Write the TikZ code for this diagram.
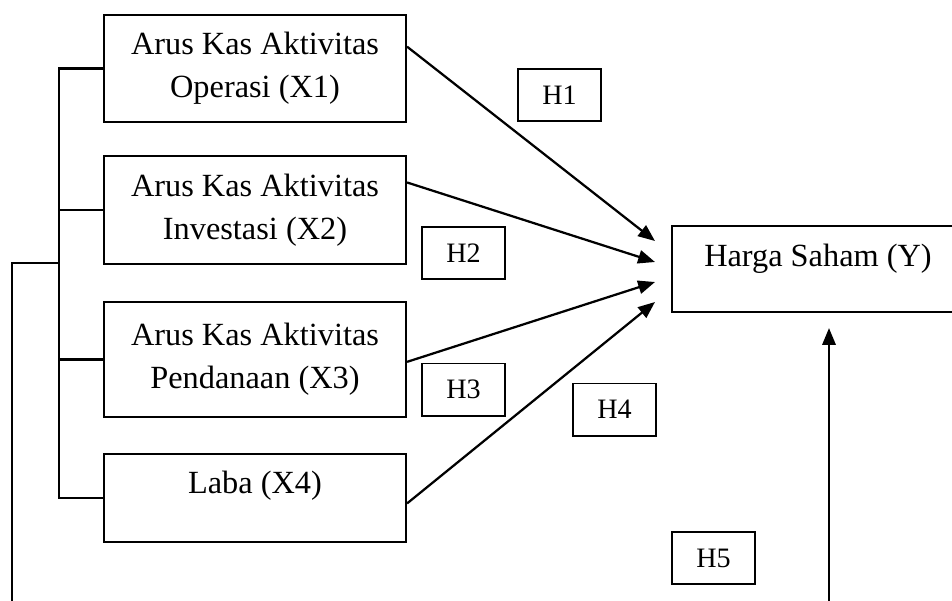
\documentclass[tikz,border=0pt]{standalone}
\usepackage{fontspec}
\setmainfont{Liberation Serif}
\usepackage{tikz}
\usetikzlibrary{arrows.meta,calc,positioning}

\begin{document}
\begin{tikzpicture}[x=0.025cm,y=-0.025cm,
    varbox/.style={draw,line width=1.5pt,inner sep=0pt,minimum width=7.55cm,font=\fontsize{23}{30.6}\selectfont},
    hbox/.style={draw,line width=1.4pt,inner sep=0pt,minimum width=2.075cm,minimum height=1.3cm,font=\fontsize{20}{24}\selectfont},
    arr/.style={line width=1.6pt,-{Triangle[length=12pt,width=9.5pt]}},
    link/.style={line width=1.5pt}]
  \useasboundingbox (0,0) rectangle (952,600);
  \clip (0,0) rectangle (952,600);
  % variables
  \node[varbox,align=center,minimum height=2.675cm] (x1) at (255,68.5) {Arus Kas Aktivitas\\Operasi (X1)};
  \node[varbox,align=center,minimum height=2.7cm] (x2) at (255,210) {Arus Kas Aktivitas\\Investasi (X2)};
  \node[varbox,align=center,minimum height=2.875cm] (x3) at (255,359.5) {Arus Kas Aktivitas\\Pendanaan (X3)};
  \node[varbox,minimum height=2.2cm,text height=15pt,text depth=22pt] (x4) at (255,498) {Laba (X4)};
  \node[varbox,minimum width=7.3cm,minimum height=2.15cm,text height=15pt,text depth=18pt] (y) at (818,269) {Harga Saham (Y)};
  % hypotheses
  \node[hbox] (h1) at (559.5,95) {H1};
  \node[hbox] (h2) at (463.5,253) {H2};
  \node[hbox] (h3) at (463.5,389.5) {H3};
  \node[hbox] (h4) at (614.5,409.5) {H4};
  \node[hbox] (h5) at (713.5,558) {H5};
  % arrow tips at Y
  \coordinate (t1) at (655,241);
  \coordinate (t2) at (655,262);
  \coordinate (t3) at (655,282);
  \coordinate (t4) at (655,302);
  \draw[arr] ($(x1.north east)!0.30!(x1.south east)$) -- (t1);
  \draw[arr] ($(x2.north east)!0.25!(x2.south east)$) -- (t2);
  \draw[arr] ($(x3.north east)!0.52!(x3.south east)$) -- (t3);
  \draw[arr] ($(x4.north east)!0.56!(x4.south east)$) -- (t4);
  % simultaneous path
  \coordinate (bus) at (59,0);
  \coordinate (mid) at (59,263);
  \coordinate (low) at (12,640);
  \coordinate (foot) at (829,640);
  \draw[link] (x1.west) -- (x1.west -| bus) -- (x4.west -| bus) -- (x4.west);
  \draw[link] (x2.west) -- (x2.west -| bus);
  \draw[link] (x3.west) -- (x3.west -| bus);
  \draw[link] (mid) -| (low);
  \draw[arr] (foot) -- ([xshift=11*0.025cm,yshift=-15*0.025cm]y.south);
\end{tikzpicture}
\end{document}
